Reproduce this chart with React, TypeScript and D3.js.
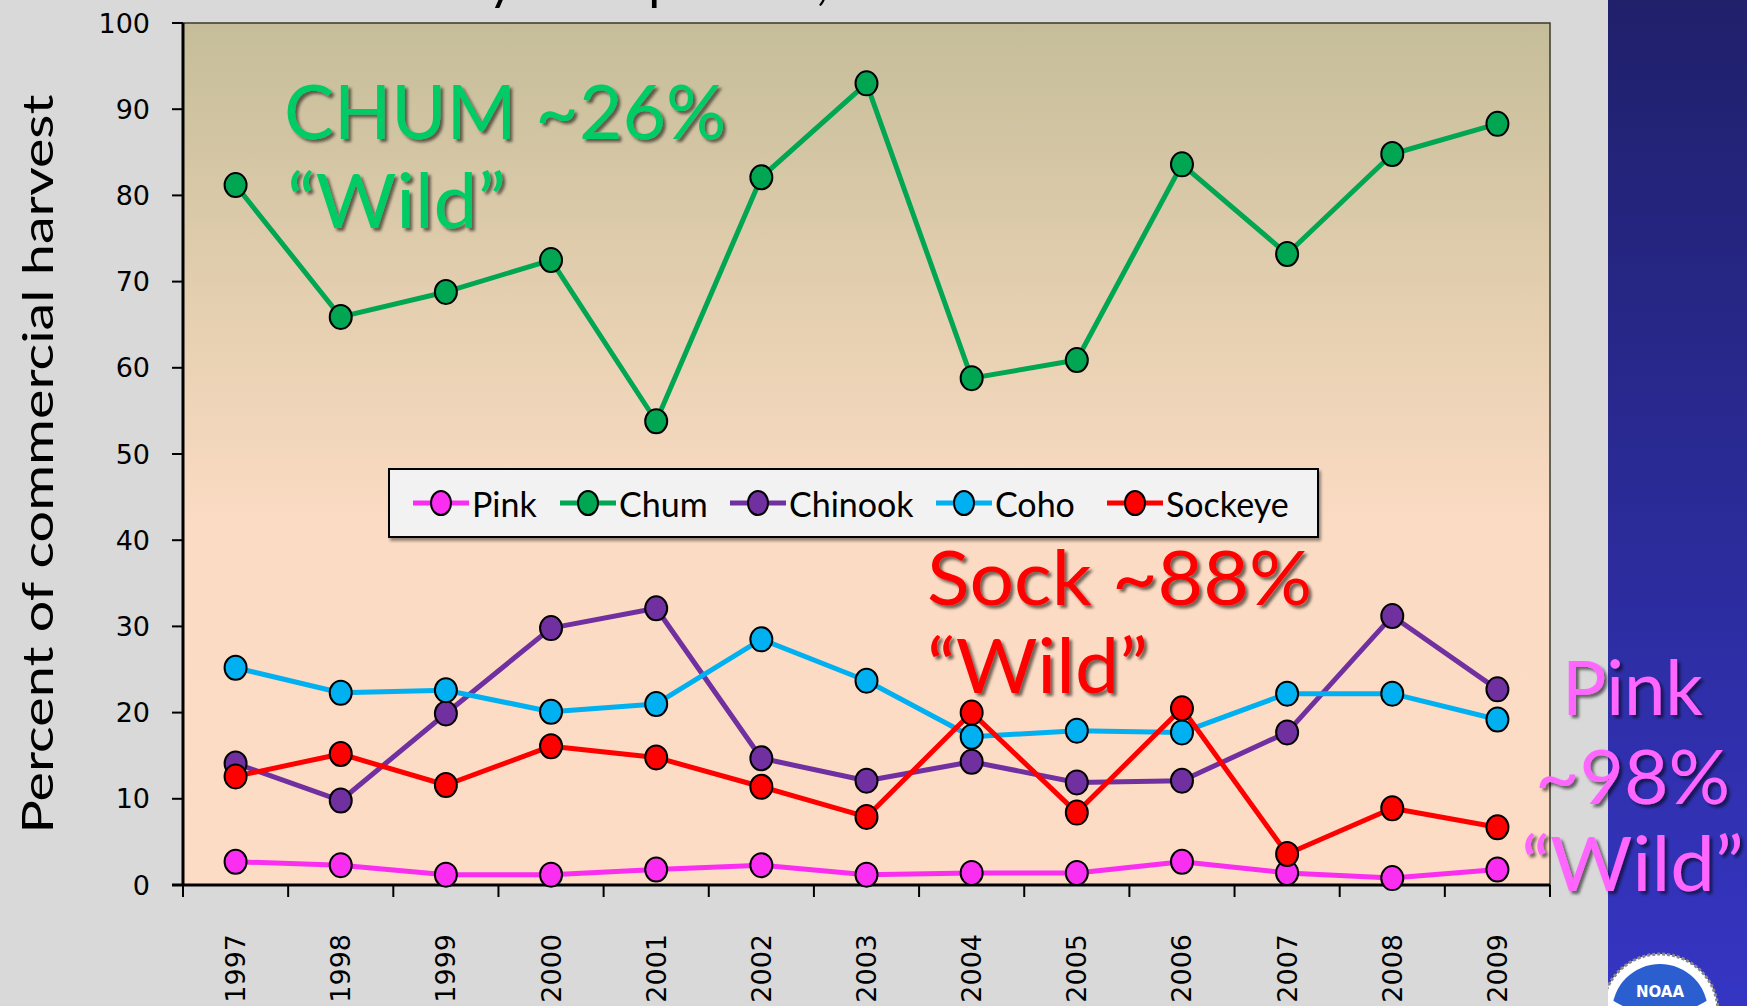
import React from 'react';
import * as d3 from 'd3';

// values (percent of commercial harvest)
const years = ['1997', '1998', '1999', '2000', '2001', '2002', '2003', '2004', '2005', '2006', '2007', '2008', '2009'];
const pink = [2.7, 2.3, 1.2, 1.2, 1.8, 2.3, 1.2, 1.4, 1.4, 2.7, 1.4, 0.8, 1.8];
const chum = [81.2, 65.9, 68.8, 72.5, 53.8, 82.1, 93.0, 58.8, 60.9, 83.6, 73.2, 84.8, 88.3];
const chinook = [14.1, 9.8, 19.9, 29.8, 32.1, 14.7, 12.1, 14.3, 11.9, 12.1, 17.7, 31.2, 22.7];
const coho = [25.2, 22.3, 22.6, 20.1, 21.0, 28.5, 23.7, 17.2, 17.9, 17.7, 22.2, 22.2, 19.2];
const sockeye = [12.6, 15.2, 11.6, 16.1, 14.8, 11.4, 7.9, 20.0, 8.4, 20.5, 3.6, 8.9, 6.7];
const yTicks = [0, 10, 20, 30, 40, 50, 60, 70, 80, 90, 100];

const seriesNames = ['Pink', 'Chum', 'Chinook', 'Coho', 'Sockeye'];
const seriesColors = ['#fa2ef0', '#00a651', '#7030a0', '#00b0f0', '#ff0000'];
const seriesValues = [pink, chum, chinook, coho, sockeye];

const W = 1747;
const H = 1006;
const plot = { left: 183, right: 1550, top: 23, bottom: 885 };
const comic = '"Comic Sans MS", Lato, sans-serif';
const gothic = '"DejaVu Sans", sans-serif';

const App = () => {
  const x = d3.scaleBand().domain(years).range([plot.left, plot.right]).padding(0);
  const y = d3.scaleLinear().domain([0, 100]).range([plot.bottom, plot.top]);
  const cx = (yr: string) => (x(yr) as number) + x.bandwidth() / 2;

  const line = d3
    .line<number>()
    .x((_, i) => cx(years[i]))
    .y((d) => y(d));

  const xTicks = years.map((yr) => x(yr) as number).concat([plot.right]);

  // legend item x positions (left end of the little line sample)
  const legendX = [413, 560, 730, 936, 1107];
  const legendY = 503;

  return (
    <svg width={W} height={H} style={{ position: 'absolute', left: 0, top: 0 }}>
      <defs>
        <linearGradient id="plotBg" x1="0" y1="0" x2="0" y2="1">
          <stop offset="0%" stopColor="#c5bd99" />
          <stop offset="30%" stopColor="#e2ceae" />
          <stop offset="58%" stopColor="#fbdbc3" />
          <stop offset="100%" stopColor="#fddcc5" />
        </linearGradient>
        <linearGradient id="blueBg" x1="0" y1="0" x2="0" y2="1">
          <stop offset="0%" stopColor="#20206b" />
          <stop offset="100%" stopColor="#3535c4" />
        </linearGradient>
        <filter id="shadow" x="-10%" y="-10%" width="130%" height="140%">
          <feDropShadow dx="3" dy="3" stdDeviation="1.5" floodColor="#000" floodOpacity="0.55" />
        </filter>
        <filter id="boxShadow" x="-5%" y="-20%" width="110%" height="150%">
          <feDropShadow dx="2" dy="3" stdDeviation="1.5" floodColor="#000" floodOpacity="0.4" />
        </filter>
        <clipPath id="panelClip">
          <rect x={1608} y={0} width={W - 1608} height={H} />
        </clipPath>
      </defs>

      {/* slide background */}
      <rect x={0} y={0} width={1608} height={H} fill="#d9d9d9" />
      <rect x={1608} y={0} width={W - 1608} height={H} fill="url(#blueBg)" />

      {/* slide title, mostly above the visible area */}
      <text x={305} y={-1} fontFamily={comic} fontSize={52} fill="#000">
        Hatchery: wild portion, 1997–2009
      </text>

      {/* plot area */}
      <rect
        x={plot.left}
        y={plot.top}
        width={plot.right - plot.left}
        height={plot.bottom - plot.top}
        fill="url(#plotBg)"
        stroke="#3a3a2a"
        strokeWidth={1.5}
      />

      {/* y axis */}
      <line x1={plot.left} x2={plot.left} y1={plot.top} y2={plot.bottom} stroke="#000" strokeWidth={3} />
      {yTicks.map((t) => (
        <g key={t}>
          <line x1={plot.left - 11} x2={plot.left} y1={y(t)} y2={y(t)} stroke="#000" strokeWidth={2} />
          <text
            x={150}
            y={y(t)}
            textAnchor="end"
            dominantBaseline="central"
            fontFamily={gothic}
            fontSize={27}
            fill="#000"
          >
            {t}
          </text>
        </g>
      ))}

      {/* x axis */}
      <line x1={plot.left - 11} x2={plot.right} y1={plot.bottom} y2={plot.bottom} stroke="#000" strokeWidth={3} />
      {xTicks.map((t, i) => (
        <line key={i} x1={t} x2={t} y1={plot.bottom} y2={plot.bottom + 12} stroke="#000" strokeWidth={2} />
      ))}
      {years.map((yr) => (
        <text
          key={yr}
          transform={`translate(${cx(yr)},${934}) rotate(-90)`}
          textAnchor="end"
          dominantBaseline="central"
          fontFamily={gothic}
          fontSize={27}
          fill="#000"
        >
          {yr}
        </text>
      ))}

      {/* y axis title */}
      <text
        transform={`translate(${37},${464}) rotate(-90)`}
        textAnchor="middle"
        dominantBaseline="central"
        fontFamily={comic}
        fontSize={42}
        textLength={739}
        lengthAdjust="spacingAndGlyphs"
        fill="#000"
      >
        Percent of commercial harvest
      </text>

      {/* series */}
      {seriesValues.map((vals, si) => (
        <g key={seriesNames[si]}>
          <path d={line(vals) as string} fill="none" stroke={seriesColors[si]} strokeWidth={5} strokeLinejoin="round" />
          {vals.map((v, i) => (
            <ellipse
              key={i}
              cx={cx(years[i])}
              cy={y(v)}
              rx={11}
              ry={12}
              fill={seriesColors[si]}
              stroke="#000"
              strokeWidth={2}
            />
          ))}
        </g>
      ))}

      {/* legend */}
      <rect x={389} y={469} width={929} height={68} fill="#f2f2f2" stroke="#000" strokeWidth={2} filter="url(#boxShadow)" />
      {seriesNames.map((name, i) => (
        <g key={name}>
          <line
            x1={legendX[i]}
            x2={legendX[i] + 56}
            y1={legendY}
            y2={legendY}
            stroke={seriesColors[i]}
            strokeWidth={5}
          />
          <ellipse cx={legendX[i] + 28} cy={legendY} rx={10} ry={12} fill={seriesColors[i]} stroke="#000" strokeWidth={2} />
          <text
            x={legendX[i] + 59}
            y={legendY}
            dominantBaseline="central"
            fontFamily={comic}
            fontSize={34}
            fill="#000"
          >
            {name}
          </text>
        </g>
      ))}

      {/* annotations */}
      <g fontFamily={comic} fontSize={76} filter="url(#shadow)">
        <text x={284} y={139} fill="#00cc66" textLength={442} lengthAdjust="spacingAndGlyphs">
          CHUM ~26%
        </text>
        <text x={287} y={228} fill="#00cc66" textLength={219} lengthAdjust="spacingAndGlyphs">
          “Wild”
        </text>
        <text x={927} y={605} fill="#ff0000" textLength={385} lengthAdjust="spacingAndGlyphs">
          Sock ~88%
        </text>
        <text x={927} y={693} fill="#ff0000" textLength={221} lengthAdjust="spacingAndGlyphs">
          “Wild”
        </text>
        <text x={1562} y={715} fill="#ff66ff" textLength={141} lengthAdjust="spacingAndGlyphs">
          Pink
        </text>
        <text x={1535} y={804} fill="#ff66ff" textLength={195} lengthAdjust="spacingAndGlyphs">
          ~98%
        </text>
        <text x={1521} y={891} fill="#ff66ff" textLength={223} lengthAdjust="spacingAndGlyphs">
          “Wild”
        </text>
      </g>

      {/* agency logo, cut off by the slide edge */}
      <g clipPath="url(#panelClip)">
        <circle cx={1660} cy={1012} r={58} fill="#ffffff" stroke="#888" strokeWidth={3} strokeDasharray="3 2" />
        <circle cx={1660} cy={1012} r={48} fill="#2b5fd0" />
        <path d="M1612,1000 Q1660,1030 1708,1000 L1708,1006 L1612,1006 Z" fill="#ffffff" />
        <text x={1660} y={992} textAnchor="middle" dominantBaseline="central" fontFamily={gothic} fontSize={15} fontWeight="bold" fill="#ffffff">
          NOAA
        </text>
      </g>
    </svg>
  );
};

export default App;
